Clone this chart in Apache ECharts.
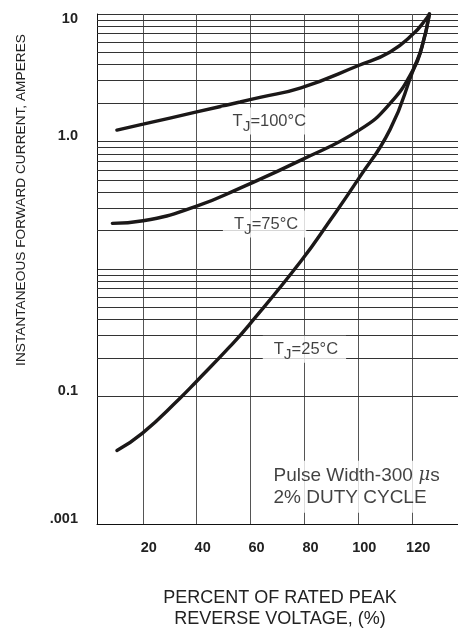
<!DOCTYPE html>
<html>
<head>
<meta charset="utf-8">
<script src="https://cdn.jsdelivr.net/npm/echarts@6/dist/echarts.min.js"></script>
<style>
  html, body { margin: 0; padding: 0; background: #fff; }
  #chart { width: 458px; height: 630px; }
</style>
</head>
<body>
<div id="chart"></div>
<script>
// percent of rated peak reverse voltage (x) / forward current in A (y)
const x100 = [10.4, 20.1, 40, 56.1, 63.5, 78.7, 100.3, 111.8, 120.5, 124.8, 126.4];
const y100 = [1.23, 1.368, 1.706, 2.04, 2.22, 2.63, 3.96, 5.04, 7.02, 8.93, 10];

const x75 = [8.7, 20.1, 40, 56.1, 78.7, 100.3, 111.8, 120.5, 123.6, 126.4];
const y75 = [0.228, 0.239, 0.311, 0.431, 0.714, 1.227, 1.99, 3.7, 5.51, 10];

const x25 = [10.4, 19.9, 33.8, 40, 52.3, 59.5, 78.8, 89.5, 99.8, 111.8, 120.5, 123.6, 126.4];
const y25 = [0.00377, 0.00516, 0.0097, 0.01318, 0.0246, 0.0365, 0.1159, 0.240, 0.500, 1.245, 3.7, 5.51, 10];

const xTicks = [20, 40, 60, 80, 100, 120];
// printed labels for 1e-3 .. 1e1 (as on the sheet)
const yTickLabels = ['.001', '0.1', '', '1.0', '10'];
// minor decade lines 2..9
const yMinor = [];
[0.001, 0.01, 0.1, 1].forEach(function (d) {
    for (let k = 2; k <= 9; k++) yMinor.push(+(d * k).toPrecision(3));
});

// where the temperature notes sit [x, y, text]
const notes = [
    [66.4, 1.449, '{t|T}{j|J}{t|=100°C}'],
    [65.2, 0.225, '{t|T}{j|J}{t|=75°C}'],
    [80.0, 0.0235, '{t|T}{j|J}{t|=25°C}']
];
const pulseNote = [66.1, 0.00196];

const font = "'Liberation Sans', Arial, Helvetica, sans-serif";

function pairs (xs, ys) {
    return xs.map(function (v, i) { return [v, ys[i]]; });
}

const chart = echarts.init(document.getElementById('chart'));

const curveStyle = {
    type: 'line',
    smooth: 0.5,
    symbol: 'none',
    silent: true,
    z: 3,
    lineStyle: { color: '#1b1818', width: 3.4, cap: 'round' }
};

const option = {
    animation: false,
    backgroundColor: '#fff',
    grid: { left: 97, top: 14, right: 0, bottom: 106 },
    xAxis: {
        type: 'value',
        min: 3,
        max: 137,
        axisLine: { show: true, lineStyle: { color: '#111', width: 1 } },
        axisTick: { show: false, customValues: xTicks },
        axisLabel: {
            customValues: xTicks,
            margin: 16,
            padding: [0, 0, 0, 12],
            fontFamily: font,
            fontSize: 14.5,
            fontWeight: 'bold',
            color: '#222'
        },
        splitLine: { show: true, lineStyle: { color: '#555', width: 1 } }
    },
    yAxis: {
        type: 'log',
        logBase: 10,
        min: 0.001,
        max: 10,
        axisLine: { show: true, lineStyle: { color: '#111', width: 1 } },
        axisTick: { show: false },
        axisLabel: {
            margin: 19,
            fontFamily: font,
            fontSize: 14.5,
            fontWeight: 'bold',
            color: '#222',
            formatter: function (v) {
                const e = Math.round(Math.log10(v));
                const s = yTickLabels[e + 3];
                if (!s) return '';
                return e === 1 ? '{top|' + s + '}' : '{up|' + s + '}';
            },
            rich: {
                top: { fontFamily: font, fontSize: 14.5, fontWeight: 'bold', color: '#222', padding: [10, 0, 0, 0] },
                up: { fontFamily: font, fontSize: 14.5, fontWeight: 'bold', color: '#222', padding: [0, 0, 11, 0] }
            }
        },
        splitLine: { show: true, lineStyle: { color: '#333', width: 1 } }
    },
    graphic: [
        {
            type: 'text',
            x: 21,
            y: 200,
            rotation: Math.PI / 2,
            style: {
                text: 'INSTANTANEOUS FORWARD CURRENT, AMPERES',
                font: '13.7px ' + font,
                fill: '#222',
                align: 'center',
                verticalAlign: 'middle'
            }
        },
        {
            type: 'text',
            x: 280,
            y: 609,
            style: {
                text: 'PERCENT OF RATED PEAK\nREVERSE VOLTAGE, (%)',
                font: '18px ' + font,
                lineHeight: 21,
                fill: '#222',
                align: 'center',
                verticalAlign: 'middle'
            }
        }
    ],
    series: [
        Object.assign({}, curveStyle, {
            name: 'TJ=25',
            data: pairs(x25, y25),
            markLine: {
                silent: true,
                symbol: 'none',
                z: 1,
                label: { show: false },
                lineStyle: { color: '#333', width: 1, type: 'solid' },
                data: yMinor.map(function (v) { return { yAxis: v }; })
            }
        }),
        Object.assign({}, curveStyle, { name: 'TJ=75', data: pairs(x75, y75) }),
        Object.assign({}, curveStyle, { name: 'TJ=100', data: pairs(x100, y100) }),
        {
            type: 'scatter',
            silent: true,
            z: 10,
            symbolSize: 1,
            itemStyle: { color: 'transparent' },
            data: notes.map(function (n) { return { value: [n[0], n[1]], txt: n[2] }; }),
            label: {
                show: true,
                position: 'inside',
                backgroundColor: '#fff',
                padding: [0, 8, 0, 11],
                formatter: function (p) { return p.data.txt; },
                rich: {
                    t: { fontFamily: font, fontSize: 16.5, color: '#111', lineHeight: 20, verticalAlign: 'middle' },
                    j: { fontFamily: font, fontSize: 15.5, color: '#111', lineHeight: 27, verticalAlign: 'bottom' }
                }
            }
        },
        {
            type: 'scatter',
            silent: true,
            z: 10,
            symbolSize: 1,
            itemStyle: { color: 'transparent' },
            data: [pulseNote],
            label: {
                show: true,
                position: 'right',
                distance: 0,
                align: 'left',
                backgroundColor: '#fff',
                padding: [4, 10, 4, 6],
                formatter: '{t|Pulse Width-300}{mu| μ}{t|s}\n{t|2% DUTY CYCLE}',
                rich: {
                    t: { fontFamily: font, fontSize: 19, color: '#111', lineHeight: 22 },
                    mu: { fontFamily: 'DejaVu Serif', fontStyle: 'italic', fontSize: 18, color: '#111', lineHeight: 22 }
                }
            }
        }
    ]
};

chart.setOption(option);
</script>
</body>
</html>
